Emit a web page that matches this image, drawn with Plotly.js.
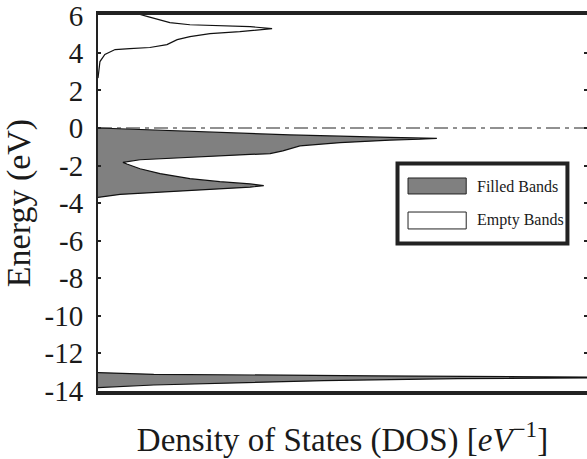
<!DOCTYPE html>
<html>
<head>
<meta charset="utf-8">
<script src="https://cdn.plot.ly/plotly-3.0.1.min.js"></script>
<style>html,body{margin:0;padding:0;background:#fff;}#chart{width:587px;height:459px;}</style>
</head>
<body>
<div id="chart"></div>
<script>
// Valence (filled) bands: DOS (arbitrary units, 0-100 across the plot) vs Energy (eV)
const filledDOS = [0, 18.8, 39.3, 59.7, 69.3, 65.8, 59.7, 49.5, 41.3, 37.8, 35.2, 31.1, 18.8, 8.6, 5.1, 5.9, 8.6, 12.7, 18.8, 24.9, 31.1, 33.9, 31.1, 25.6, 18.8, 12.1, 4.5, 0,
                   null,
                   0, 11.4, 56.3, 100, 112, 100, 73.5, 46.1, 11.4, 0];
const filledE   = [0.0, -0.16, -0.37, -0.50, -0.55, -0.60, -0.65, -0.78, -0.95, -1.22, -1.36, -1.41, -1.57, -1.69, -1.83, -1.92, -2.17, -2.43, -2.70, -2.86, -2.98, -3.07, -3.15, -3.23, -3.33, -3.42, -3.54, -3.70,
                   null,
                   -13.03, -13.12, -13.20, -13.27, -13.29, -13.31, -13.35, -13.46, -13.69, -13.83];
// Conduction (empty) band
const emptyDOS = [0, 0.2, 0.4, 1.4, 2.5, 3.5, 6.5, 10.6, 14.1, 16.2, 18.8, 22.9, 29.0, 35.6, 31.1, 24.9, 18.8, 14.7, 12.7, 10.2, 8.6, 0];
const emptyE   = [2.66, 3.12, 3.54, 3.92, 4.07, 4.18, 4.23, 4.29, 4.44, 4.71, 4.87, 5.03, 5.13, 5.29, 5.40, 5.45, 5.50, 5.61, 5.77, 5.93, 6.05, 6.05];
// Fermi level
const fermiDOS = [0, 100];
const fermiE = [0, 0];
// Axis ticks
const yTickVals = [6, 4, 2, 0, -2, -4, -6, -8, -10, -12, -14];
const yTickText = ["6", "4", "2", "0", "-2", "-4", "-6", "-8", "-10", "-12", "-14"];
const legendNames = ["Filled Bands", "Empty Bands"];

const serif = "Liberation Serif";
const ink = "#1a1a1a";

const traces = [
  {x: filledDOS, y: filledE, name: legendNames[0], type: "scatter", mode: "lines",
   fill: "toself", fillcolor: "#808080", line: {color: "#111", width: 1.2}, showlegend: false},
  {x: emptyDOS, y: emptyE, name: legendNames[1], type: "scatter", mode: "lines",
   fill: "toself", fillcolor: "#ffffff", line: {color: "#111", width: 1.2}, showlegend: false},
  {x: fermiDOS, y: fermiE, name: "Fermi level", type: "scatter", mode: "lines",
   line: {color: "#222", width: 1, dash: "14px,5px,4px,5px"}, showlegend: false},
  {x: [], y: [], yaxis: "y2", type: "scatter", mode: "lines", showlegend: false, hoverinfo: "skip"}
];

const layout = {
  width: 587, height: 459,
  margin: {l: 98, r: 0, t: 15, b: 68},
  paper_bgcolor: "#fff", plot_bgcolor: "#fff",
  showlegend: false,
  font: {family: serif, color: ink},
  xaxis: {
    range: [0, 100], showgrid: false, zeroline: false,
    showticklabels: false, ticks: "",
    showline: true, linecolor: "#222", linewidth: 4, mirror: true,
    title: {text: "Density of States (DOS) [<i>eV</i><sup>−1</sup>]", font: {family: serif, size: 33, color: ink}, standoff: 36}
  },
  yaxis: {
    range: [-14.01, 6.02], showgrid: false, zeroline: false,
    tickmode: "array", tickvals: yTickVals, ticktext: yTickText,
    ticks: "inside", ticklen: 3, tickwidth: 2, tickcolor: "#222",
    ticklabelstandoff: 7, ticklabeloverflow: "allow",
    tickfont: {family: serif, size: 29, color: ink},
    showline: true, linecolor: "#222", linewidth: 2,
    title: {text: "Energy (eV)", font: {family: serif, size: 34, color: ink}, standoff: 6}
  },
  yaxis2: {
    overlaying: "y", side: "right", range: [-14.01, 6.02],
    tickmode: "array", tickvals: yTickVals,
    ticks: "inside", ticklen: 3, tickwidth: 2, tickcolor: "#222",
    showticklabels: false, showline: false, showgrid: false, zeroline: false
  },
  shapes: [
    {type: "rect", xref: "paper", yref: "paper", x0: 0.6125, x1: 0.960, y0: 0.3923, y1: 0.605,
     line: {color: "#222", width: 4}, fillcolor: "#fff", layer: "above"},
    {type: "rect", xref: "paper", yref: "paper", x0: 0.634, x1: 0.753, y0: 0.524, y1: 0.5665,
     line: {color: "#222", width: 1}, fillcolor: "#808080", layer: "above"},
    {type: "rect", xref: "paper", yref: "paper", x0: 0.634, x1: 0.753, y0: 0.431, y1: 0.476,
     line: {color: "#222", width: 1}, fillcolor: "#ffffff", layer: "above"}
  ],
  annotations: [
    {xref: "paper", yref: "paper", x: 0.771, y: 0.545, xanchor: "left", yanchor: "middle",
     text: legendNames[0], showarrow: false, font: {family: serif, size: 16, color: ink}},
    {xref: "paper", yref: "paper", x: 0.771, y: 0.455, xanchor: "left", yanchor: "middle",
     text: legendNames[1], showarrow: false, font: {family: serif, size: 16, color: ink}}
  ]
};

Plotly.newPlot("chart", traces, layout, {staticPlot: true, displayModeBar: false});
</script>
</body>
</html>
